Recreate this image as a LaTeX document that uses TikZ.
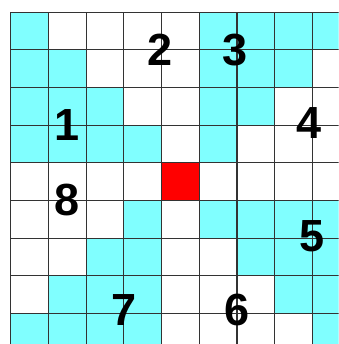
\documentclass[tikz,border=0pt]{standalone}
\usepackage{fontspec}
\setmainfont{Liberation Sans}
\definecolor{cellcyan}{HTML}{80FFFF}
\tikzset{digit/.style={font=\fontsize{34}{34}\selectfont\bfseries,inner sep=0pt}}
\begin{document}
\begin{tikzpicture}
	\useasboundingbox (-0.29,0.32) rectangle (8.70,-8.81);
	\clip (-0.29,0.32) rectangle (8.70,-8.81);
	% cyan cells (column/row)
	\foreach \c/\r in {0/0,5/0,6/0,7/0,8/0,
	                   0/1,1/1,5/1,6/1,7/1,
	                   0/2,1/2,2/2,5/2,6/2,
	                   0/3,1/3,2/3,3/3,5/3,
	                   3/5,5/5,6/5,7/5,8/5,
	                   2/6,3/6,6/6,7/6,8/6,
	                   1/7,2/7,3/7,7/7,8/7,
	                   0/8,1/8,2/8,3/8,8/8}
		\fill[cellcyan] (\c,-\r) rectangle (\c+1,-\r-1);
	% centre cell
	\fill[red] (4,-4) rectangle (5,-5);
	\draw[line width=0.8pt,black!80] (0,0) grid (9,-9);
	\node[digit] (n1) at (1.5,-3) {1};
	\node[digit] (n2) at (3.95,-1) {2};
	\node[digit] (n3) at (5.95,-1) {3};
	\node[digit] (n4) at (7.9,-2.95) {4};
	\node[digit] (n5) at (8.0,-5.95) {5};
	\node[digit] (n6) at (6.0,-7.9) {6};
	\node[digit] (n7) at (3.0,-7.9) {7};
	\node[digit] (n8) at (1.5,-5.0) {8};
\end{tikzpicture}
\end{document}
